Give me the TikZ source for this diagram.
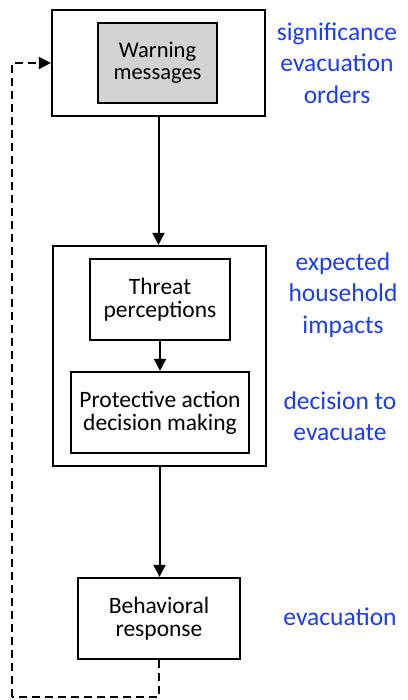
\documentclass[tikz,border=0pt]{standalone}
\usepackage{fontspec}
\setmainfont{Carlito}
\usetikzlibrary{arrows.meta}
\definecolor{lblue}{RGB}{25,60,255}
\definecolor{gbox}{RGB}{211,211,211}
\begin{document}
\begin{tikzpicture}[x=1pt,y=-1pt,
  box/.style={draw=black,line width=2.3pt,rectangle,inner sep=0pt,align=center,
    font=\fontsize{23.5}{23}\selectfont},
  lbl/.style={text=lblue,align=center,font=\fontsize{25.5}{31.5}\selectfont},
  conn/.style={line width=2pt,-{Triangle[width=12pt,length=12pt]}},
  fb/.style={line width=2pt,dash pattern=on 8pt off 5pt}]
\useasboundingbox (0,0) rectangle (407,700);
\node[box,minimum width=213pt,minimum height=106pt] (b1) at (158.5,63) {};
\node[box,fill=gbox,minimum width=119pt,minimum height=80pt,font=\fontsize{22.5}{22}\selectfont] (warn) at (157.5,63) {Warning\\messages};
\node[box,minimum width=213pt,minimum height=220pt] (b2) at (159.5,356) {};
\node[box,minimum width=140pt,minimum height=81pt] (threat) at (160,299.5) {Threat\\perceptions};
\node[box,minimum width=178pt,minimum height=81pt] (prot) at (160,412.5) {Protective action\\decision making};
\node[box,minimum width=162pt,minimum height=81pt] (beh) at (159,618.5) {Behavioral\\response};
\node[lbl] (l1) at (337,63) {significance\\evacuation\\orders};
\node[lbl] (l2) at (343,295) {expected\\household\\impacts};
\node[lbl] (l3) at (340,416) {decision to\\evacuate};
\node[lbl] (l4) at (340,617) {evacuation};
\coordinate (c1) at (12,697);
\draw[conn] (b1.south) -- (b1.south |- b2.north);
\draw[conn] (threat.south) -- (prot.north);
\draw[conn] (b2.south) -- (b2.south |- beh.north);
\draw[fb] (beh.south) |- (c1);
\draw[fb,-{Triangle[width=12pt,length=12pt]}] (c1) |- (b1.west);
\end{tikzpicture}
\end{document}
